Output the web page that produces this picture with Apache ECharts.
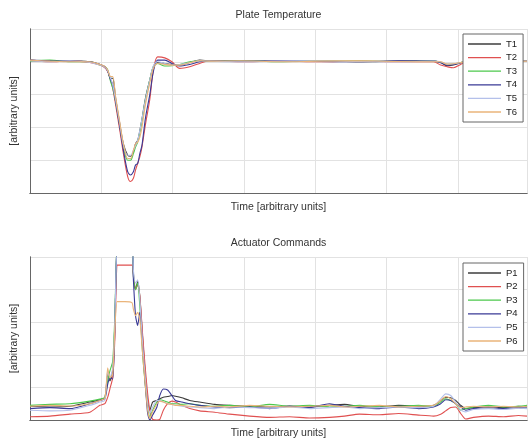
<!DOCTYPE html>
<html>
<head>
<meta charset="utf-8">
<script src="https://cdn.jsdelivr.net/npm/echarts@6/dist/echarts.min.js"></script>
<style>html,body{margin:0;padding:0;background:#fff}#c{width:528px;height:440px}</style>
</head>
<body>
<div id="c"></div>
<script>
// ---- Top plot: Plate Temperature ----
var timeTop = [0, 28, 56, 84, 98, 105, 109, 113, 116, 120, 126, 131, 137, 141, 145, 148, 151, 154, 157, 162, 168, 173, 179, 189, 199, 210, 224, 238, 252, 294, 350, 406, 462, 517, 566, 576, 585, 594, 604, 615, 643, 671, 697];
var T1 = [4.05,4.02,4.03,4.0,3.92,3.85,3.72,3.5,3.5,2.9,2.1,1.5,1.15,1.12,1.25,1.5,1.6,1.9,2.25,2.9,3.45,3.85,3.98,3.95,3.92,3.9,3.98,4.05,4.03,4.02,4.01,4.03,4.0,4.02,4.03,3.98,3.88,3.9,3.97,4.02,4.0,4.02,4.03];
var T2 = [4.03,4.0,4.02,3.98,3.9,3.82,3.7,3.45,3.2,2.7,1.9,1.2,0.5,0.35,0.45,0.7,0.9,1.1,1.4,2.1,2.85,3.75,4.15,4.12,4.0,3.8,3.85,3.95,4.03,4.0,4.02,4.0,4.02,4.0,4.0,3.9,3.85,3.82,3.92,4.0,4.02,4.0,4.02];
var T3 = [4.02,4.05,4.0,4.0,3.9,3.85,3.75,3.4,3.2,2.8,2.05,1.4,1.0,1.0,1.2,1.4,1.55,1.85,2.2,2.85,3.45,3.85,3.95,3.87,3.88,3.92,4.0,4.03,4.02,4.04,4.0,4.03,4.02,4.01,4.02,3.98,3.92,3.93,3.98,4.02,4.02,4.0,4.02];
var T4 = [4.05,4.03,4.02,4.0,3.92,3.85,3.72,3.45,3.3,2.8,2.0,1.3,0.65,0.55,0.65,0.85,0.9,1.2,1.45,2.3,3.0,3.7,4.05,4.05,3.95,3.87,3.92,4.0,4.03,4.02,4.03,4.01,4.0,4.03,4.02,3.97,3.9,3.92,3.97,4.02,4.0,4.03,4.02];
var T5 = [4.03,4.0,4.03,3.98,3.9,3.83,3.73,3.5,3.3,2.85,2.1,1.45,1.15,1.15,1.3,1.45,1.6,1.9,2.25,2.85,3.45,3.87,4.0,3.95,3.9,3.92,3.97,4.03,4.02,4.0,4.02,4.03,4.01,4.0,4.02,4.0,3.93,3.94,3.98,4.02,4.01,4.02,4.02];
var T6 = [4.05,4.02,4.0,4.0,3.92,3.86,3.75,3.55,3.55,2.95,2.15,1.5,1.05,1.05,1.3,1.5,1.55,1.7,2.0,2.7,3.35,3.8,3.95,3.92,3.9,3.9,3.97,4.03,4.02,4.03,4.0,4.02,4.03,4.01,4.0,4.0,3.93,3.94,3.98,4.01,4.02,4.01,4.02];

// ---- Bottom plot: Actuator Commands ----
var timeBot = [0,28,56,84,98,105,109,112,116,119,122,124,133,143,145,148,151,154,158,162,165,168,172,178,182,187,193,199,204,213,224,238,259,280,308,336,364,392,420,441,462,490,517,545,566,576,583,590,597,604,611,622,643,664,685,697];
var P1 = [0.42,0.40,0.42,0.55,0.62,0.68,1.4,1.2,1.5,3.0,5.4,5.4,5.4,5.4,4.4,4.0,4.25,3.8,2.5,1.3,0.6,0.3,0.55,0.6,0.65,0.7,0.72,0.75,0.73,0.68,0.6,0.55,0.48,0.45,0.42,0.4,0.43,0.4,0.45,0.48,0.42,0.4,0.45,0.42,0.45,0.6,0.7,0.68,0.6,0.45,0.35,0.38,0.4,0.38,0.42,0.4];
var P2 = [0.1,0.12,0.18,0.24,0.45,0.5,0.7,0.95,1.3,2.5,4.75,4.75,4.75,4.75,4.5,4.0,4.15,3.8,2.6,1.5,0.8,0.3,0.02,0.0,0.02,0.3,0.5,0.58,0.55,0.45,0.35,0.28,0.24,0.18,0.12,0.08,0.1,0.06,0.08,0.12,0.18,0.16,0.2,0.15,0.12,0.18,0.28,0.38,0.4,0.2,0.03,0.08,0.12,0.1,0.14,0.12];
var P3 = [0.45,0.48,0.5,0.58,0.64,0.7,1.2,1.5,1.8,3.2,5.4,5.4,5.4,5.4,4.5,4.0,4.2,3.5,2.0,1.0,0.4,0.1,0.3,0.55,0.62,0.6,0.55,0.5,0.5,0.48,0.5,0.45,0.42,0.45,0.4,0.48,0.42,0.45,0.4,0.42,0.45,0.4,0.42,0.45,0.42,0.55,0.65,0.6,0.5,0.3,0.35,0.4,0.45,0.4,0.42,0.45];
var P4 = [0.35,0.38,0.35,0.5,0.6,0.65,1.1,1.3,1.25,2.8,5.4,5.4,5.4,5.4,4.3,3.2,2.9,3.3,2.2,1.0,0.2,0.0,0.15,0.4,0.75,0.95,0.92,0.75,0.6,0.55,0.5,0.45,0.4,0.38,0.4,0.35,0.42,0.38,0.5,0.42,0.38,0.35,0.4,0.35,0.4,0.5,0.62,0.6,0.5,0.4,0.3,0.35,0.38,0.35,0.38,0.36];
var P5 = [0.3,0.28,0.3,0.45,0.55,0.6,1.5,1.3,1.6,3.0,5.4,5.4,5.4,5.4,4.6,4.2,4.3,3.7,2.3,1.2,0.5,0.2,0.4,0.6,0.6,0.55,0.5,0.48,0.45,0.42,0.4,0.38,0.35,0.4,0.38,0.36,0.4,0.35,0.38,0.4,0.35,0.38,0.4,0.38,0.42,0.65,0.8,0.75,0.55,0.3,0.25,0.32,0.35,0.32,0.36,0.35];
var P6 = [0.42,0.45,0.43,0.5,0.6,0.66,1.6,1.3,1.4,2.8,3.63,3.63,3.63,3.6,3.4,3.2,3.3,3.1,2.0,1.0,0.3,0.05,0.25,0.5,0.58,0.55,0.5,0.48,0.45,0.45,0.42,0.4,0.42,0.4,0.45,0.42,0.4,0.42,0.45,0.4,0.42,0.45,0.4,0.42,0.45,0.6,0.72,0.65,0.5,0.38,0.4,0.42,0.4,0.42,0.4,0.42];

var namesTop = ['T1','T2','T3','T4','T5','T6'];
var namesBot = ['P1','P2','P3','P4','P5','P6'];
var colors = ['#3c3c3c','#e05050','#4cc84c','#3a3a96','#b4c0ea','#eab47a'];

function pairs(t, v){ return t.map(function(x,i){ return [x, v[i]]; }); }

var FONT = 'Liberation Sans, Arial, sans-serif';
var axisColor = '#666';
var gridColor = '#e2e2e2';
var FS = 10.5;

function xAxes(gi, title, gapB){
  return [
    { gridIndex: gi, type: 'value', min: 0, max: 697, interval: 100, position: 'bottom',
      name: 'Time [arbitrary units]', nameLocation: 'middle', nameGap: gapB,
      nameTextStyle: { fontFamily: FONT, fontSize: FS, color: '#333' },
      axisLine: { show: true, lineStyle: { color: axisColor, width: 1 } },
      axisTick: { show: false },
      axisLabel: { show: false },
      splitLine: { show: true, lineStyle: { color: gridColor, width: 1 } } },
    { gridIndex: gi, type: 'value', min: 0, max: 697, interval: 100, position: 'top',
      name: title, nameLocation: 'middle', nameGap: 8,
      nameTextStyle: { fontFamily: FONT, fontSize: FS, color: '#333' },
      axisLine: { show: true, lineStyle: { color: axisColor, width: 1 } },
      axisTick: { show: false },
      axisLabel: { show: false }, splitLine: { show: false } }
  ];
}
function yAxes(gi){
  return [
    { gridIndex: gi, type: 'value', min: 0, max: 5, interval: 1, position: 'left',
      name: '[arbitrary units]', nameLocation: 'middle', nameGap: 10,
      nameTextStyle: { fontFamily: FONT, fontSize: FS, color: '#333' },
      axisLine: { show: true, lineStyle: { color: axisColor, width: 1 } },
      axisTick: { show: false },
      axisLabel: { show: false },
      splitLine: { show: true, lineStyle: { color: gridColor, width: 1 } } },
    { gridIndex: gi, type: 'value', min: 0, max: 5, interval: 1, position: 'right',
      axisLine: { show: true, lineStyle: { color: axisColor, width: 1 } },
      axisTick: { show: false },
      axisLabel: { show: false }, splitLine: { show: false } }
  ];
}

var series = [];
namesTop.forEach(function(n, i){
  series.push({ name: n, type: 'line', xAxisIndex: 0, yAxisIndex: 0, symbol: 'none', smooth: 0.3,
    data: pairs(timeTop, [T1,T2,T3,T4,T5,T6][i]),
    lineStyle: { width: 1.1, color: colors[i] }, itemStyle: { color: colors[i] }, clip: true, z: 3 });
});
namesBot.forEach(function(n, i){
  series.push({ name: n, type: 'line', xAxisIndex: 2, yAxisIndex: 2, symbol: 'none', smooth: 0.2,
    data: pairs(timeBot, [P1,P2,P3,P4,P5,P6][i]),
    lineStyle: { width: 1.1, color: colors[i] }, itemStyle: { color: colors[i] }, clip: true, z: 3 });
});

function legend(names, top){
  return { data: names, orient: 'vertical', left: 463, top: top,
    icon: 'rect', itemWidth: 33, itemHeight: 1.3, itemGap: 3.6, padding: [5, 6, 5, 5],
    backgroundColor: '#fff', borderColor: '#666', borderWidth: 1,
    textStyle: { fontFamily: FONT, fontSize: 9.5, lineHeight: 10, height: 10, color: '#222', padding: [0,0,0,0] },
    selectedMode: false };
}

var chart = echarts.init(document.getElementById('c'), null, { renderer: 'canvas' });
chart.setOption({
  animation: false,
  backgroundColor: '#fff',
  grid: [
    { left: 30, right: 1, top: 29, height: 164, containLabel: false },
    { left: 30, right: 1, top: 257, height: 164, containLabel: false }
  ],
  xAxis: xAxes(0, 'Plate Temperature', 9).concat(xAxes(1, 'Actuator Commands', 8)),
  yAxis: yAxes(0).concat(yAxes(1)),
  legend: [legend(namesTop, 34), legend(namesBot, 263)],
  series: series
});
</script>
</body>
</html>
